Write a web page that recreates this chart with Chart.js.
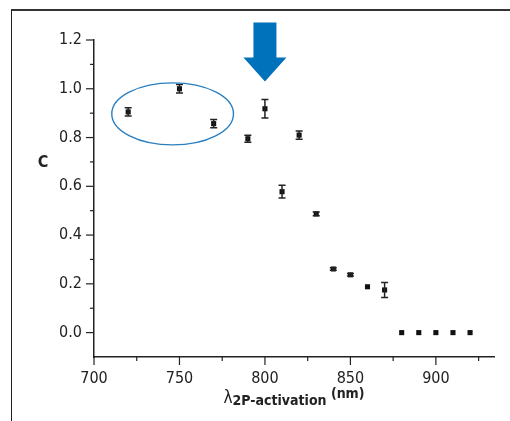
<!DOCTYPE html>
<html>
<head>
<meta charset="utf-8">
<script src="https://cdn.jsdelivr.net/npm/chart.js@4.4.1/dist/chart.umd.min.js"></script>
<style>
    html, body { margin: 0; padding: 0; background: #fff; }
    #wrap { position: relative; width: 510px; height: 421px; }
    #frame {
        position: absolute; left: 11px; top: 9px; right: 0; bottom: 0;
        border-left: 1.5px solid #222; border-top: 2px solid #333;
    }
    canvas { position: absolute; left: 0; top: 0; }
</style>
</head>
<body>
<div id="wrap">
    <div id="frame"></div>
    <canvas id="chart" width="510" height="421"></canvas>
</div>
<script>
// --- Data ---
const wavelengths = [720, 750, 770, 790, 800, 810, 820, 830, 840, 850, 860, 870, 880, 890, 900, 910, 920];
const cValues     = [0.905, 1.0, 0.857, 0.795, 0.918, 0.578, 0.81, 0.487, 0.261, 0.237, 0.188, 0.175, 0, 0, 0, 0, 0];
const cErrors     = [0.017, 0.017, 0.017, 0.014, 0.038, 0.026, 0.017, 0.008, 0.005, 0.005, 0, 0.031, 0, 0, 0, 0, 0];

const xTickLabels = [700, 750, 800, 850, 900];
const yTickLabels = [0.0, 0.2, 0.4, 0.6, 0.8, 1.0, 1.2];

// highlighted group (ellipse) and the arrow, in data units
const ellipseCenter = [746, 0.897];
const ellipseRadii = [35.6, 0.127];
const arrowTip = [800, 1.03];

const FONT = '"Liberation Sans Narrow", "DejaVu Sans Condensed", "Roboto", sans-serif';
const INK = '#222';
const BLUE = '#0072bb';

// --- Custom drawing: ticks, error bars, ellipse, arrow, axis titles ---
const decorPlugin = {
    id: 'decor',
    afterDatasetsDraw(chart) {
        const { ctx, scales: { x, y } } = chart;
        ctx.save();

        // tick marks (major long, minor short)
        ctx.strokeStyle = INK;
        ctx.lineWidth = 1.2;
        for (let v = 700; v <= 925; v += 25) {
            const px = x.getPixelForValue(v);
            const len = v % 50 === 0 ? 8 : 4;
            ctx.beginPath();
            ctx.moveTo(px, y.bottom);
            ctx.lineTo(px, y.bottom + len);
            ctx.stroke();
        }
        for (let i = 0; i <= 12; i++) {
            const py = y.getPixelForValue(i / 10);
            const len = i % 2 === 0 ? 8 : 4;
            ctx.beginPath();
            ctx.moveTo(x.left - len, py);
            ctx.lineTo(x.left, py);
            ctx.stroke();
        }

        // error bars
        ctx.lineWidth = 1.5;
        wavelengths.forEach((w, i) => {
            const e = cErrors[i];
            if (!e) return;
            const px = x.getPixelForValue(w);
            const top = y.getPixelForValue(cValues[i] + e);
            const bot = y.getPixelForValue(cValues[i] - e);
            ctx.beginPath();
            ctx.moveTo(px, top); ctx.lineTo(px, bot);
            ctx.moveTo(px - 3.5, top); ctx.lineTo(px + 3.5, top);
            ctx.moveTo(px - 3.5, bot); ctx.lineTo(px + 3.5, bot);
            ctx.stroke();
        });

        // ellipse around the first group
        const cx = x.getPixelForValue(ellipseCenter[0]);
        const cy = y.getPixelForValue(ellipseCenter[1]);
        const rx = x.getPixelForValue(ellipseCenter[0] + ellipseRadii[0]) - cx;
        const ry = cy - y.getPixelForValue(ellipseCenter[1] + ellipseRadii[1]);
        ctx.strokeStyle = '#2a7fc0';
        ctx.lineWidth = 1.4;
        ctx.beginPath();
        ctx.ellipse(cx, cy, rx, ry, 0, 0, Math.PI * 2);
        ctx.stroke();

        // blue arrow
        const ax = x.getPixelForValue(arrowTip[0]);
        const ay = y.getPixelForValue(arrowTip[1]);
        ctx.fillStyle = BLUE;
        ctx.beginPath();
        ctx.moveTo(ax, ay);
        ctx.lineTo(ax - 21.5, ay - 24);
        ctx.lineTo(ax - 11.5, ay - 24);
        ctx.lineTo(ax - 11.5, ay - 59);
        ctx.lineTo(ax + 11.5, ay - 59);
        ctx.lineTo(ax + 11.5, ay - 24);
        ctx.lineTo(ax + 21.5, ay - 24);
        ctx.closePath();
        ctx.fill();

        // y title "C"
        ctx.fillStyle = INK;
        ctx.font = 'bold 16px ' + FONT;
        ctx.textAlign = 'center';
        ctx.textBaseline = 'alphabetic';
        ctx.fillText('C', 43, 167);

        // x title: lambda with subscript and (nm)
        const parts = [
            { t: '\u03BB', f: '17px ' + FONT, dy: 0 },
            { t: '2P-activation', f: 'bold 14px ' + FONT, dy: 2 },
            { t: ' (nm)', f: 'bold 14px ' + FONT, dy: -5 }
        ];
        let total = 0;
        parts.forEach(p => { ctx.font = p.f; p.w = ctx.measureText(p.t).width; total += p.w; });
        let tx = (x.left + x.right) / 2 - total / 2;
        ctx.textAlign = 'left';
        parts.forEach(p => {
            ctx.font = p.f;
            ctx.fillText(p.t, tx, 403 + p.dy);
            tx += p.w;
        });

        ctx.restore();
    }
};

new Chart(document.getElementById('chart'), {
    type: 'scatter',
    data: {
        datasets: [{
            data: wavelengths.map((w, i) => ({ x: w, y: cValues[i] })),
            pointStyle: 'rect',
            pointRadius: 3.6,
            backgroundColor: '#111',
            borderColor: '#111',
            borderWidth: 0
        }]
    },
    options: {
        responsive: false,
        animation: false,
        devicePixelRatio: 1,
        layout: { padding: { top: 40, right: 16, left: 0, bottom: 0 } },
        plugins: { legend: { display: false }, tooltip: { enabled: false } },
        scales: {
            x: {
                type: 'linear', min: 700, max: 934,
                afterFit: s => { s.height = 64; },
                afterBuildTicks: s => { s.ticks = []; for (let v = 700; v <= 925; v += 25) s.ticks.push({ value: v }); },
                grid: { display: false, drawTicks: true, tickLength: 8 },
                border: { display: true, color: INK, width: 1.5 },
                ticks: {
                    padding: 4, color: INK, maxRotation: 0, autoSkip: false,
                    font: { family: FONT, size: 16 },
                    callback: v => xTickLabels.includes(v) ? String(v) : ''
                }
            },
            y: {
                type: 'linear', min: -0.1, max: 1.2,
                afterFit: s => { s.width = 94; },
                afterBuildTicks: s => { s.ticks = yTickLabels.map(v => ({ value: v })); },
                grid: { display: false, drawTicks: true, tickLength: 8 },
                border: { display: true, color: INK, width: 1.5 },
                ticks: {
                    padding: 4, color: INK, autoSkip: false,
                    font: { family: FONT, size: 16 },
                    callback: v => v.toFixed(1)
                }
            }
        }
    },
    plugins: [decorPlugin]
});
</script>
</body>
</html>
